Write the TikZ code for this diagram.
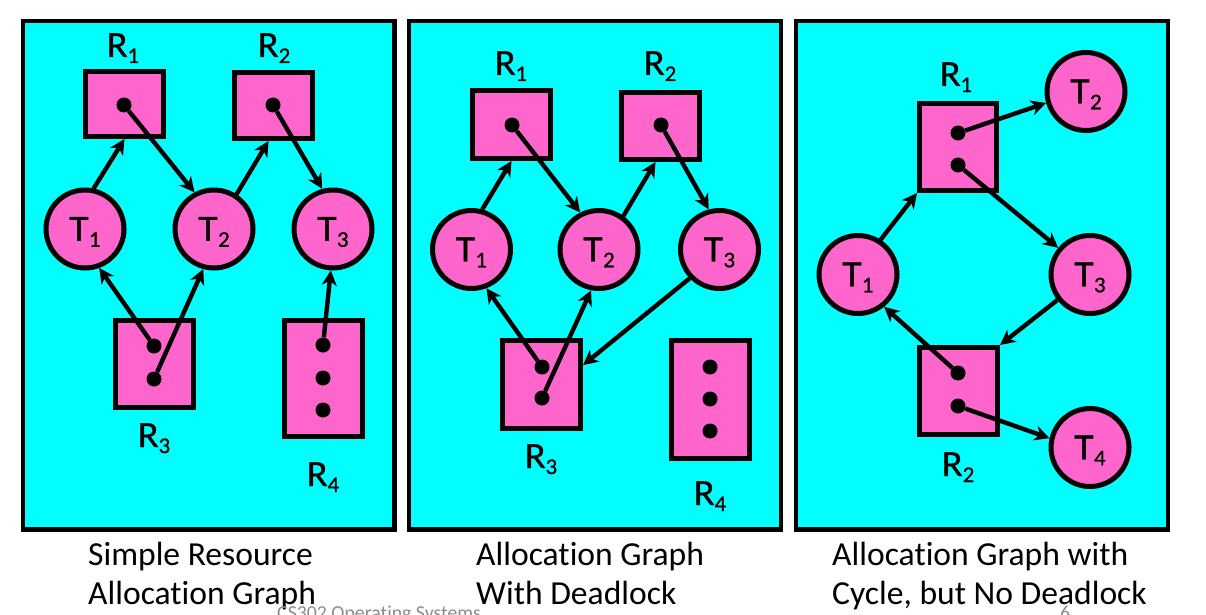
\documentclass[tikz,border=0pt]{standalone}
\usepackage{fontspec}
\setmainfont{Carlito}[Ligatures=NoCommon]
\newfontfamily\glfont{Lato}[FakeBold=1.2]
\usetikzlibrary{arrows.meta}
\definecolor{scyan}{HTML}{00FFFF}
\definecolor{spink}{HTML}{FF66CC}
\definecolor{footgray}{HTML}{8C8C8C}
\newcommand{\glab}[2]{#1\kern0.5pt\raisebox{-6pt}{\fontsize{20}{20}\selectfont #2}}
\begin{document}
\begin{tikzpicture}[x=1pt,y=-1pt,
  panel/.style={draw=black,line width=4.8pt,fill=scyan},
  res/.style={draw=black,line width=5pt,fill=spink,rectangle,inner sep=0pt,minimum width=78pt},
  thr/.style={draw=black,line width=5pt,fill=spink,circle,inner sep=0pt,minimum size=78pt,
    font=\glfont\fontsize{33}{33}\selectfont,text height=23.5pt,text depth=0pt},
  unitdot/.style={circle,fill=black,inner sep=0pt,minimum size=15pt},
  lbl/.style={anchor=base,inner sep=0pt,font=\glfont\fontsize{33}{33}\selectfont},
  conn/.style={line width=4.4pt,-{Stealth[length=15pt,width=15pt,inset=4.5pt]}},
  captxt/.style={anchor=base west,inner sep=0pt,font=\fontsize{33.6}{39}\selectfont},
  foot/.style={anchor=base west,inner sep=0pt,text=footgray,font=\fontsize{19.8}{22}\selectfont}
]
\useasboundingbox (0,0) rectangle (1206,615);
\fill[white] (0,0) rectangle (1206,615);

% ---------- Panel 1 ----------
\draw[panel] (23,21) rectangle (394.5,529.5);
\node[res,minimum height=65pt] (p1R1) at (124.5,104) {};
\node[res,minimum height=66pt] (p1R2) at (273.5,105.5) {};
\node[res,minimum height=87pt] (p1R3) at (154.5,364) {};
\node[res,minimum height=116pt] (p1R4) at (323.5,378.5) {};
\node[thr] (p1T1) at (85,229) {\glab{T}{1}};
\node[thr] (p1T2) at (214,229) {\glab{T}{2}};
\node[thr] (p1T3) at (333,229) {\glab{T}{3}};
\node[unitdot] (p1d1) at (124,105) {};
\node[unitdot] (p1d2) at (273,105) {};
\node[unitdot] (p1d3a) at (154,346) {};
\node[unitdot] (p1d3b) at (154,379) {};
\node[unitdot] (p1d4a) at (323,345) {};
\node[unitdot] (p1d4b) at (323,378) {};
\node[unitdot] (p1d4c) at (323,410) {};
\node[lbl] (p1L1) at (123,57) {\glab{R}{1}};
\node[lbl] (p1L2) at (274,57) {\glab{R}{2}};
\node[lbl] (p1L3) at (154,447) {\glab{R}{3}};
\node[lbl] (p1L4) at (323,486) {\glab{R}{4}};
\draw[conn] (p1T1.78) -- (p1R1.south);
\draw[conn] (p1d1) -- (p1T2.118);
\draw[conn] (p1T2.57) -- (p1R2.-98);
\draw[conn] (p1d2) -- (p1T3.105);
\draw[conn] (p1d3a) -- (p1T1.-70);
\draw[conn] (p1d3b) -- (p1T2.-105);
\draw[conn] (p1d4a) -- (p1T3.-93);

% ---------- Panel 2 ----------
\draw[panel] (409,21) rectangle (781,529.5);
\node[res,minimum height=68pt] (p2R1) at (511.5,124.5) {};
\node[res,minimum height=67pt] (p2R2) at (660.5,126) {};
\node[res,minimum height=88pt] (p2R3) at (541.5,384.5) {};
\node[res,minimum height=118pt] (p2R4) at (710.5,399.5) {};
\node[thr] (p2T1) at (471.5,249.5) {\glab{T}{1}};
\node[thr] (p2T2) at (599,249.5) {\glab{T}{2}};
\node[thr] (p2T3) at (719.5,249.5) {\glab{T}{3}};
\node[unitdot] (p2d1) at (512,125) {};
\node[unitdot] (p2d2) at (661,125) {};
\node[unitdot] (p2d3a) at (542,367) {};
\node[unitdot] (p2d3b) at (542,398) {};
\node[unitdot] (p2d4a) at (710,367) {};
\node[unitdot] (p2d4b) at (710,399) {};
\node[unitdot] (p2d4c) at (710,431) {};
\node[lbl] (p2L1) at (511,75) {\glab{R}{1}};
\node[lbl] (p2L2) at (660,75) {\glab{R}{2}};
\node[lbl] (p2L3) at (541,468) {\glab{R}{3}};
\node[lbl] (p2L4) at (710,505) {\glab{R}{4}};
\draw[conn] (p2T1.75) -- (p2R1.south);
\draw[conn] (p2d1) -- (p2T2.117);
\draw[conn] (p2T2.54) -- (p2R2.-98);
\draw[conn] (p2d2) -- (p2T3.105);
\draw[conn] (p2d3a) -- (p2T1.-69);
\draw[conn] (p2d3b) -- (p2T2.-101);
\draw[conn] (p2T3.-136) -- (p2R3.25);

% ---------- Panel 3 ----------
\draw[panel] (796,21) rectangle (1168,529.5);
\node[res,minimum width=77pt,minimum height=87pt] (p3R1) at (958,147) {};
\node[res,minimum height=87pt] (p3R2) at (958.5,391) {};
\node[thr] (p3T1) at (858,274.5) {\glab{T}{1}};
\node[thr] (p3T2) at (1086,91.5) {\glab{T}{2}};
\node[thr] (p3T3) at (1090,274.5) {\glab{T}{3}};
\node[thr] (p3T4) at (1090,447.5) {\glab{T}{4}};
\node[unitdot] (p3d1a) at (958,133) {};
\node[unitdot] (p3d1b) at (958,165) {};
\node[unitdot] (p3d2a) at (958,373) {};
\node[unitdot] (p3d2b) at (958,406) {};
\node[lbl] (p3L1) at (956,86) {\glab{R}{1}};
\node[lbl] (p3L2) at (958,476) {\glab{R}{2}};
\draw[conn] (p3d1a) -- (p3T2.-164);
\draw[conn] (p3d1b) -- (p3T3.140);
\draw[conn] (p3T1.57) -- (p3R1.south west);
\draw[conn] (p3T3.-142) -- (p3R2.north east);
\draw[conn] (p3d2a) -- (p3T1.-51);
\draw[conn] (p3d2b) -- (p3T4.167);

% ---------- Captions ----------
\node[captxt] (c1a) at (88,565) {Simple Resource};
\node[captxt] (c1b) at (88,604) {Allocation Graph};
\node[captxt] (c2a) at (476,565) {Allocation Graph};
\node[captxt] (c2b) at (476,604) {With Deadlock};
\node[captxt] (c3a) at (832,565) {Allocation Graph with};
\node[captxt] (c3b) at (832,604) {Cycle, but No Deadlock};
\node[foot] (f1) at (277,619.5) {CS302 Operating Systems};
\node[foot] (f2) at (1060,619.5) {6};
\end{tikzpicture}
\end{document}
